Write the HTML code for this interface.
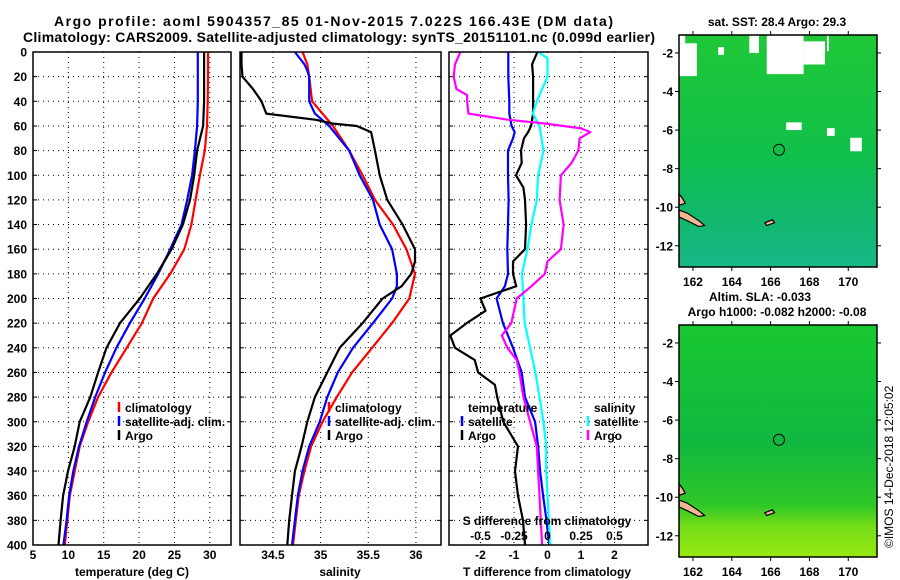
<!DOCTYPE html>
<html><head><meta charset="utf-8"><style>
html,body{margin:0;padding:0;background:#fff;}
svg{display:block;font-family:"Liberation Sans",sans-serif;font-weight:bold;}
</style></head><body>
<svg id="chart" width="900" height="580" viewBox="0 0 900 580" xmlns="http://www.w3.org/2000/svg">
<defs>
<linearGradient id="sstGrad" x1="0" y1="0" x2="0" y2="1">
<stop offset="0" stop-color="#20c838"/><stop offset="0.5" stop-color="#10c048"/><stop offset="0.75" stop-color="#10b868"/><stop offset="1" stop-color="#18b888"/>
</linearGradient>
<linearGradient id="slaGrad" x1="0" y1="0" x2="0" y2="1">
<stop offset="0" stop-color="#18c830"/><stop offset="0.5" stop-color="#10b840"/><stop offset="0.78" stop-color="#30c828"/><stop offset="0.86" stop-color="#70dc18"/><stop offset="1" stop-color="#98e810"/>
</linearGradient>
</defs>
<text x="54" y="26" font-size="14" textLength="559">Argo profile: aoml 5904357_85 01-Nov-2015 7.022S 166.43E (DM data)</text>
<text x="23" y="42" font-size="14" textLength="632">Climatology: CARS2009. Satellite-adjusted climatology: synTS_20151101.nc (0.099d earlier)</text>
<g id="layer"></g>
<text transform="translate(893,548) rotate(-90)" font-size="12" font-weight="normal">©IMOS 14-Dec-2018 12:05:02</text>
</svg>
<script>
// ---------- data ----------
const tDepth = [0,20,40,60,80,100,120,140,160,180,200,220,240,260,280,300,320,340,360,380,400];
const tempClim = [29.75,29.75,29.7,29.6,29.3,28.6,28.0,27.4,26.4,24.4,22.0,20.4,18.25,16.1,14.2,12.8,11.6,10.9,10.2,9.85,9.5];
const tempSat  = [28.3,28.3,28.3,28.2,27.9,27.5,26.8,26.0,24.4,22.7,20.8,18.7,16.8,15.2,13.8,12.6,11.5,10.7,10.1,9.75,9.3];
const tempArgo = [29.2,29.2,29.2,29.05,28.2,27.8,27.2,26.2,24.6,22.5,20.1,17.3,15.4,14.2,13.1,11.6,10.9,9.95,9.25,8.9,8.6];

const sDepthClim = [0,10,20,40,60,80,100,120,140,160,180,200,220,240,260,280,300,320,340,360,380,400];
const salClim = [34.81,34.86,34.88,34.91,35.13,35.30,35.44,35.57,35.76,35.90,35.99,35.93,35.75,35.54,35.33,35.17,35.02,34.90,34.83,34.77,34.74,34.71];
const sDepthSat = [0,10,15,20,40,50,60,80,100,120,140,160,180,190,200,220,240,260,280,300,320,340,360,380,400];
const salSat = [34.73,34.83,34.86,34.88,34.88,34.94,35.09,35.30,35.41,35.55,35.62,35.75,35.80,35.80,35.75,35.55,35.34,35.18,35.07,34.99,34.88,34.81,34.76,34.73,34.70];
const sDepthArgo = [0,10,20,30,40,50,55,58,60,65,80,100,120,140,160,170,180,190,200,220,240,260,280,300,320,340,360,380,400];
const salArgo = [34.17,34.17,34.18,34.29,34.38,34.43,34.95,35.12,35.38,35.53,35.57,35.62,35.70,35.86,35.99,35.99,35.95,35.85,35.65,35.44,35.20,35.07,34.94,34.86,34.80,34.73,34.70,34.67,34.65];

const dtSatDepth = [0,20,40,50,60,65,70,80,100,120,140,160,180,190,200,220,240,260,280,300,320,340,360,380,400];
const dtSat = [-1.17,-1.17,-1.14,-1.14,-1.07,-0.98,-1.03,-1.18,-1.18,-1.16,-1.18,-1.2,-1.18,-1.27,-1.52,-1.33,-1.03,-0.77,-0.67,-0.37,-0.28,-0.22,-0.13,-0.03,0.05];
const dtArgoDepth = [0,10,20,40,50,55,60,65,70,80,90,100,110,120,140,160,170,180,190,200,210,220,230,240,250,260,270,280,300,320,340,360,380,400];
const dtArgo = [-0.3,-0.46,-0.43,-0.43,-0.43,-0.46,-0.49,-0.58,-0.7,-0.79,-0.77,-0.94,-0.72,-0.67,-0.64,-0.67,-1.03,-1.03,-0.93,-2.0,-1.85,-2.41,-2.9,-2.76,-2.17,-2.07,-1.57,-1.5,-1.32,-0.88,-0.97,-0.88,-0.73,-0.67];
const dsSatDepth = [0,5,20,40,50,60,80,100,120,140,160,180,200,220,240,260,280,300,320,340,360,380,400];
const dsSat = [-0.07,0,0,-0.08,-0.11,-0.06,-0.03,-0.07,-0.08,-0.12,-0.15,-0.19,-0.18,-0.17,-0.13,-0.09,-0.06,-0.03,-0.01,-0.01,0,0.01,0.02];
const dsArgoDepth = [0,10,20,30,35,40,50,55,58,62,65,70,80,90,100,120,140,160,170,180,190,200,220,230,240,250,260,280,300,320,340,360,380,400];
const dsArgo = [-0.65,-0.69,-0.7,-0.68,-0.6,-0.6,-0.59,-0.29,-0.02,0.25,0.32,0.24,0.23,0.18,0.10,0.09,0.12,0.10,0.0,-0.02,-0.12,-0.23,-0.27,-0.34,-0.30,-0.23,-0.21,-0.18,-0.13,-0.08,-0.07,-0.06,-0.05,-0.04];

const depthTicks = [0,20,40,60,80,100,120,140,160,180,200,220,240,260,280,300,320,340,360,380,400];
const tempTicks = [5,10,15,20,25,30];
const salTicks = [34.5,35,35.5,36];
const salTickLabels = ["34.5","35","35.5","36"];
const dtTicks = [-2,-1,0,1,2];
const dsTicks = [-0.5,-0.25,0,0.25,0.5];
const dsTickLabels = ["-0.5","-0.25","0","0.25","0.5"];
const lonTicks = [162,164,166,168,170];
const latTicks = [-2,-4,-6,-8,-10,-12];
const argoLon = 166.43, argoLat = -7.022;
const cloudLon0 = [161.3,163.3,164.9,165.8,167.7,168.9,166.8,168.9,170.1,161.3];
const cloudLon1 = [162.2,163.6,165.4,167.7,168.8,169.0,167.6,169.3,170.7,161.6];
const cloudLatT = [-1.5,-1.7,-1.1,-1.1,-1.4,-1.1,-5.6,-5.9,-6.4,-1.1];
const cloudLatB = [-3.2,-2.1,-2.0,-3.1,-2.6,-1.9,-6.0,-6.3,-7.1,-1.5];

// ---------- helpers ----------
const NS = "http://www.w3.org/2000/svg";
const layer = document.getElementById('layer');
function mk(tag, attrs, parent){const e=document.createElementNS(NS,tag);for(const k in attrs)e.setAttribute(k,attrs[k]);(parent||layer).appendChild(e);return e;}
const top0 = 52, bot0 = 545;
const yD = d => top0 + (bot0-top0)*d/400;

function panel(x0,x1,dmin,dmax,name){
  const g = mk('g',{});
  
  
  return {g, x:v=>x0+(x1-x0)*(v-dmin)/(dmax-dmin), x0, x1};
}
function grid(p, xt, showDepthLabels){
  depthTicks.forEach(d=>{
    const l = mk('line',{x1:p.x0,x2:p.x1,y1:yD(d),y2:yD(d),stroke:'#000','stroke-width':1,'stroke-dasharray':'1,4'},p.g);
    
    
    mk('line',{x1:p.x0,x2:p.x0+4,y1:yD(d),y2:yD(d),stroke:'#000'},p.g);
    mk('line',{x1:p.x1-4,x2:p.x1,y1:yD(d),y2:yD(d),stroke:'#000'},p.g);
    if(showDepthLabels){
      const t = mk('text',{x:27,y:yD(d)+4.5,'text-anchor':'end','font-size':12},p.g);
      t.textContent = d;
      
      
    }
  });
  xt.forEach(v=>{
    const l = mk('line',{x1:p.x(v),x2:p.x(v),y1:top0,y2:bot0,stroke:'#000','stroke-width':1,'stroke-dasharray':'1,4'},p.g);
    
    
  });
}
function series(p, vals, depths, color, name, w){
  const pts = vals.map((v,i)=>p.x(v).toFixed(1)+','+yD(depths[i]).toFixed(1)).join(' ');
  const pl = mk('polyline',{points:pts,fill:'none',stroke:color,'stroke-width':w||2,'stroke-linejoin':'round'},p.g);
  
  
}
function frame(p){
  const r = mk('rect',{x:p.x0,y:top0,width:p.x1-p.x0,height:bot0-top0,fill:'none',stroke:'#000','stroke-width':1.5},p.g);
  
  
}
function txt(x,y,s,name,anchor,size,parent){
  const t = mk('text',{x:x,y:y,'text-anchor':anchor||'start','font-size':size||12},parent);
  t.textContent = s;
  
  
  return t;
}
function legendEntry(g,x,y,color,label){
  const gg = mk('g',{},g);
  
  
  mk('line',{x1:x,x2:x,y1:y-10,y2:y,stroke:color,'stroke-width':2.5},gg);
  txt(x+6,y,label,'legend-label','start',12,gg);
}

// ---------- panel 1 ----------
const p1 = panel(33,231,5,33,'temperature-panel');
grid(p1,tempTicks.slice(1),true);
series(p1,tempClim,tDepth,'#ff0000','temp-climatology-line',2.2);
series(p1,tempSat,tDepth,'#0000ff','temp-satellite-line',2.2);
series(p1,tempArgo,tDepth,'#000000','temp-argo-line',2.2);
frame(p1);
tempTicks.forEach(v=>txt(p1.x(v),559,String(v),'temp-tick-label','middle',12,p1.g));
txt(132,576,'temperature (deg C)','temp-axis-title','middle',12,p1.g);
legendEntry(p1.g,119,412,'#ff0000','climatology');
legendEntry(p1.g,119,426,'#0000ff','satellite-adj. clim.');
legendEntry(p1.g,119,440,'#000000','Argo');

// ---------- panel 2 ----------
const p2 = panel(240,441,34.154,36.263,'salinity-panel');
grid(p2,salTicks,false);
series(p2,salClim,sDepthClim,'#ff0000','sal-climatology-line',2.2);
series(p2,salSat,sDepthSat,'#0000ff','sal-satellite-line',2.2);
series(p2,salArgo,sDepthArgo,'#000000','sal-argo-line',2.2);
frame(p2);
salTicks.forEach((v,i)=>txt(p2.x(v),559,salTickLabels[i],'sal-tick-label','middle',12,p2.g));
txt(340,576,'salinity','sal-axis-title','middle',12,p2.g);
legendEntry(p2.g,329,412,'#ff0000','climatology');
legendEntry(p2.g,329,426,'#0000ff','satellite-adj. clim.');
legendEntry(p2.g,329,440,'#000000','Argo');

// ---------- panel 3 ----------
const p3 = panel(449,648,-2.94,3.0,'difference-panel');
const xs = v => p3.x(v*4);
grid(p3,dtTicks,false);
series(p3,dtSat,dtSatDepth,'#0000ff','dT-satellite-line',2.2);
series(p3,dtArgo,dtArgoDepth,'#000000','dT-argo-line',2.2);
series({g:p3.g,x:xs},dsSat,dsSatDepth,'#00ffff','dS-satellite-line',2.2);
series({g:p3.g,x:xs},dsArgo,dsArgoDepth,'#ff00ff','dS-argo-line',2.2);
frame(p3);
dtTicks.forEach(v=>txt(p3.x(v),559,String(v),'dT-tick-label','middle',12,p3.g));
dsTicks.forEach((v,i)=>txt(xs(v),540,dsTickLabels[i],'dS-tick-label','middle',12,p3.g));
txt(547,525,'S difference from climatology','dS-axis-title','middle',12,p3.g);
txt(547,576,'T difference from climatology','dT-axis-title','middle',12,p3.g);
txt(468,412,'temperature','legend-title-temperature','start',12,p3.g);
legendEntry(p3.g,462,426,'#0000ff','satellite');
legendEntry(p3.g,462,440,'#000000','Argo');
txt(594,412,'salinity','legend-title-salinity','start',12,p3.g);
legendEntry(p3.g,588,426,'#00ffff','satellite');
legendEntry(p3.g,588,440,'#ff00ff','Argo');

// ---------- maps ----------
function map(y0,y1,fill,name,withClouds){
  const x0=679,x1=877;
  const g = mk('g',{});
  
  
  const lon = v => x0 + (v-161.28)*(x1-x0)/(171.48-161.28);
  const lat = v => y0 + (-1.07-v)*(y1-y0)/(13.1-1.07);
  const bg = mk('rect',{x:x0,y:y0,width:x1-x0,height:y1-y0,fill:fill},g);
  
  
  if(withClouds){
    cloudLon0.forEach((v,i)=>{
      const r = mk('rect',{x:lon(v),y:lat(cloudLatT[i]),width:lon(cloudLon1[i])-lon(v),height:lat(cloudLatB[i])-lat(cloudLatT[i]),fill:'#fff'},g);
      
      
    });
  }
  const isl = mk('path',{d:`M${lon(161.28)},${lat(-10.15)} L${lon(161.7)},${lat(-10.3)} L${lon(162.3)},${lat(-10.7)} L${lon(162.6)},${lat(-10.95)} L${lon(162.3)},${lat(-11)} L${lon(161.7)},${lat(-10.7)} L${lon(161.28)},${lat(-10.5)} Z M${lon(161.28)},${lat(-9.3)} L${lon(161.5)},${lat(-9.6)} L${lon(161.6)},${lat(-9.8)} L${lon(161.28)},${lat(-9.9)} Z M${lon(165.7)},${lat(-10.8)} L${lon(166.1)},${lat(-10.65)} L${lon(166.2)},${lat(-10.8)} L${lon(165.8)},${lat(-10.95)} Z`,fill:'#f0b890',stroke:'#000','stroke-width':1.2},g);
  
  
  const c = mk('circle',{cx:lon(argoLon),cy:lat(argoLat),r:5.5,fill:'none',stroke:'#000','stroke-width':1},g);
  
  
  const fr = mk('rect',{x:x0,y:y0,width:x1-x0,height:y1-y0,fill:'none',stroke:'#000','stroke-width':1.5},g);
  
  
  lonTicks.forEach(v=>{
    mk('line',{x1:lon(v),x2:lon(v),y1:y0-4,y2:y0,stroke:'#000'},g);
    mk('line',{x1:lon(v),x2:lon(v),y1:y1,y2:y1+4,stroke:'#000'},g);
    txt(lon(v),y1+19,String(v),'lon-tick-label','middle',12,g);
  });
  latTicks.forEach(v=>{
    mk('line',{x1:x0-4,x2:x0,y1:lat(v),y2:lat(v),stroke:'#000'},g);
    mk('line',{x1:x1,x2:x1+4,y1:lat(v),y2:lat(v),stroke:'#000'},g);
    txt(673,lat(v)+4.5,String(v),'lat-tick-label','end',12,g);
  });
}
map(35,267,'url(#sstGrad)','sst-map',true);
map(325,557,'url(#slaGrad)','sla-map',false);
txt(777,26,'sat. SST: 28.4 Argo: 29.3','sst-map-title','middle',12);
txt(760,301,'Altim. SLA: -0.033','sla-map-title','middle',12);
txt(777,316,'Argo h1000: -0.082 h2000: -0.08','sla-map-subtitle','middle',12);
</script>
</body></html>
